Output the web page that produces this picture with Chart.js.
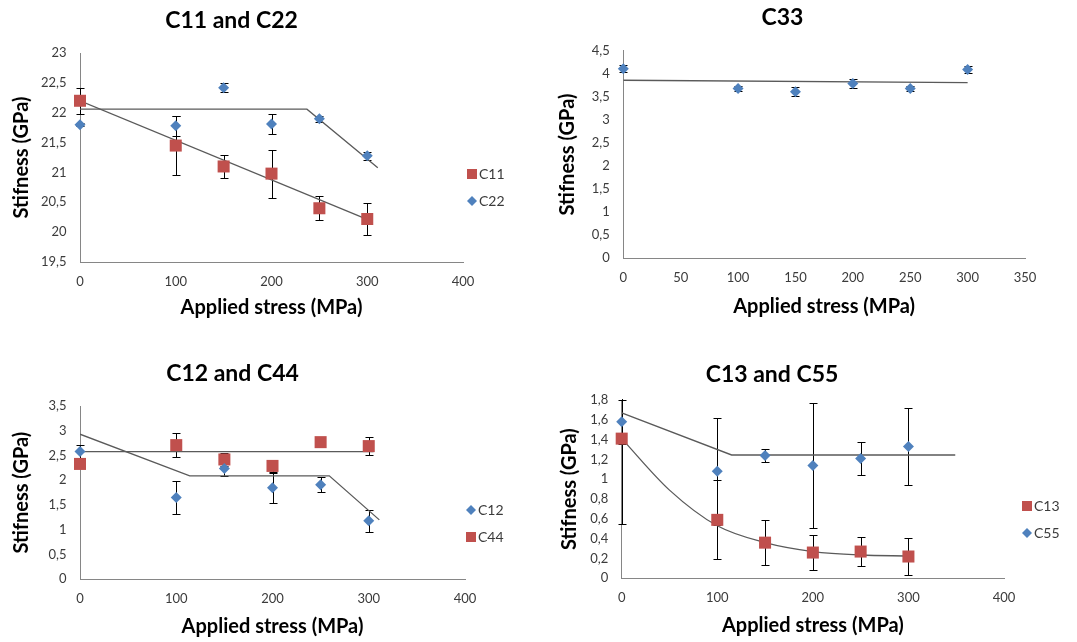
<!DOCTYPE html>
<html>
<head>
<meta charset="utf-8">
<script src="https://cdn.jsdelivr.net/npm/chart.js@4.4.1/dist/chart.umd.min.js"></script>
<style>
  body { margin: 0; background: #fff; }
  canvas { position: absolute; }
</style>
</head>
<body>
<canvas id="p1" width="540" height="330" style="left:0;top:0"></canvas>
<canvas id="p2" width="537" height="330" style="left:540px;top:0"></canvas>
<canvas id="p3" width="540" height="297" style="left:0;top:345px"></canvas>
<canvas id="p4" width="537" height="297" style="left:540px;top:345px"></canvas>
<script>
// ---- data ----
const stress = [0, 100, 150, 200, 250, 300];

const c11 = [22.2, 21.45, 21.1, 20.98, 20.4, 20.22];
const c11Err = [0.22, 0.5, 0.2, 0.4, 0.2, 0.27];
const c22 = [21.8, 21.78, 22.42, 21.81, 21.9, 21.28];
const c22Err = [0.03, 0.17, 0.07, 0.17, 0.05, 0.07];
const c11TrendX = [0, 305];
const c11TrendY = [22.2, 20.18];
const c22TrendX = [0, 237, 311];
const c22TrendY = [22.06, 22.06, 21.08];

const c33 = [4.11, 3.68, 3.61, 3.79, 3.68, 4.09];
const c33Err = [0.07, 0.06, 0.1, 0.1, 0.05, 0.08];
const c33TrendX = [0, 300];
const c33TrendY = [3.86, 3.81];

const c12 = [2.58, 1.65, 2.24, 1.85, 1.91, 1.18];
const c12Err = [0.13, 0.33, 0.16, 0.3, 0.15, 0.22];
const c44 = [2.33, 2.71, 2.42, 2.29, 2.77, 2.69];
const c44Err = [0.03, 0.25, 0.14, 0.12, 0.03, 0.18];
const c12TrendX = [0, 114, 259, 311];
const c12TrendY = [2.93, 2.09, 2.09, 1.2];
const c44TrendX = [0, 305];
const c44TrendY = [2.58, 2.58];

const c13 = [1.41, 0.59, 0.36, 0.26, 0.27, 0.22];
const c13Err = [0.86, 0.4, 0.23, 0.18, 0.15, 0.19];
const c55 = [1.58, 1.08, 1.24, 1.14, 1.21, 1.33];
const c55Err = [0.22, 0.54, 0.07, 0.63, 0.17, 0.39];
const c13TrendX = [0, 50, 100, 150, 200, 250, 300];
const c13TrendY = [1.41, 0.89, 0.53, 0.36, 0.27, 0.235, 0.225];
const c55TrendX = [0, 115, 349];
const c55TrendY = [1.67, 1.245, 1.245];

const RED = "#C0504D", BLUE = "#4F81BD", LINE = "#5a5a5a";
const TICK = "#3b3b3b", AXIS = "#868686";

const pts = (xs, ys) => xs.map((x, i) => ({ x, y: ys[i] }));
const comma = v => String(Math.round(v * 10) / 10).replace(".", ",");

const squares = (label, ys, err) => ({
  label, data: pts(stress, ys), errors: err, clip: false,
  pointStyle: "rect", radius: 8.5, backgroundColor: RED, borderWidth: 0
});
const diamonds = (label, ys, err) => ({
  label, data: pts(stress, ys), errors: err, clip: false,
  pointStyle: "rectRot", radius: 5.5, backgroundColor: BLUE, borderWidth: 0
});
const trend = (xs, ys, curve) => ({
  trend: true, data: pts(xs, ys), showLine: true, pointRadius: 0,
  borderColor: LINE, borderWidth: 1.3, tension: curve ? 0.4 : 0,
  cubicInterpolationMode: curve ? "monotone" : "default"
});

// error bars under the markers, plus the small legend on the right
const extras = {
  id: "extras",
  beforeDatasetsDraw(chart) {
    const { ctx, chartArea: a, scales: { y } } = chart;
    ctx.save();
    ctx.beginPath();
    ctx.rect(a.left - 6, a.top - 1, a.right - a.left + 6, a.bottom - a.top + 2);
    ctx.clip();
    ctx.strokeStyle = "#000";
    ctx.lineWidth = 1;
    chart.data.datasets.forEach((ds, di) => {
      if (!ds.errors) return;
      chart.getDatasetMeta(di).data.forEach((pt, i) => {
        const v = ds.data[i].y, e = ds.errors[i];
        const top = Math.round(y.getPixelForValue(v + e)) + 0.5;
        const bot = Math.round(y.getPixelForValue(v - e)) + 0.5;
        const x = Math.round(pt.x) + 0.5;
        ctx.beginPath();
        ctx.moveTo(x, top); ctx.lineTo(x, bot);
        ctx.moveTo(x - 4, top); ctx.lineTo(x + 4, top);
        ctx.moveTo(x - 4, bot); ctx.lineTo(x + 4, bot);
        ctx.stroke();
      });
    });
    ctx.restore();
  },
  afterDraw(chart, args, opts) {
    if (!opts.x) return;
    const ctx = chart.ctx;
    ctx.save();
    ctx.font = "14px Lato";
    ctx.textBaseline = "middle";
    chart.data.datasets.filter(d => !d.trend).forEach((ds, i) => {
      const y = opts.ys[i];
      ctx.fillStyle = ds.backgroundColor;
      ctx.beginPath();
      if (ds.pointStyle === "rect") {
        ctx.rect(opts.x - 5, y - 5, 10, 10);
      } else {
        ctx.moveTo(opts.x, y - 5); ctx.lineTo(opts.x + 5, y);
        ctx.lineTo(opts.x, y + 5); ctx.lineTo(opts.x - 5, y);
        ctx.closePath();
      }
      ctx.fill();
      ctx.fillStyle = TICK;
      ctx.fillText(ds.label, opts.x + 7, y);
    });
    ctx.restore();
  }
};

function panel(id, c) {
  const bold = { family: "Lato", size: 20, weight: "bold" };
  return new Chart(document.getElementById(id), {
    type: "scatter",
    data: { datasets: c.datasets },
    options: {
      responsive: false,
      animation: false,
      layout: { padding: { right: c.padRight } },
      plugins: {
        legend: { display: false },
        tooltip: { enabled: false },
        title: {
          display: true, text: c.title, color: "#000",
          font: { family: "Lato", size: 23, weight: "bold" },
          padding: { top: c.titleTop, bottom: c.titleBottom }
        },
        extras: c.legend || {}
      },
      scales: {
        x: {
          min: 0, max: c.xMax,
          grid: { display: false, drawTicks: false },
          border: { color: AXIS },
          ticks: { stepSize: c.xStep, padding: 12, color: TICK, font: { family: "Lato", size: 13 } },
          title: { display: true, text: "Applied stress (MPa)", color: "#000", font: bold, padding: { bottom: c.xTitlePad } },
          afterFit: s => { s.height = c.xH; }
        },
        y: {
          min: c.yMin, max: c.yMax,
          grid: { display: false, drawTicks: false },
          border: { color: AXIS },
          ticks: { stepSize: c.yStep, padding: 13.5, color: TICK, font: { family: "Lato", size: 13 }, callback: comma },
          title: { display: true, text: "Stifness (GPa)", color: "#000", font: bold, padding: { top: c.yTitlePad } },
          afterFit: s => { s.width = c.yW; }
        }
      }
    },
    plugins: [extras]
  });
}

panel("p1", {
  title: "C11 and C22",
  datasets: [squares("C11", c11, c11Err), diamonds("C22", c22, c22Err),
             trend(c11TrendX, c11TrendY), trend(c22TrendX, c22TrendY)],
  xMax: 400, xStep: 100, yMin: 19.5, yMax: 23, yStep: 0.5,
  padRight: 77, titleTop: 6.5, titleBottom: 18.9, yW: 80, xH: 68,
  yTitlePad: 10, xTitlePad: 10,
  legend: { x: 472, ys: [174, 201] }
});

panel("p2", {
  title: "C33",
  datasets: [diamonds("C33", c33, c33Err), trend(c33TrendX, c33TrendY)],
  xMax: 350, xStep: 50, yMin: 0, yMax: 4.5, yStep: 0.5,
  padRight: 52, titleTop: 3.8, titleBottom: 19.3, yW: 83.3, xH: 71.7,
  yTitlePad: 16, xTitlePad: 11.3
});

panel("p3", {
  title: "C12 and C44",
  datasets: [diamonds("C12", c12, c12Err), squares("C44", c44, c44Err),
             trend(c12TrendX, c12TrendY), trend(c44TrendX, c44TrendY)],
  xMax: 400, xStep: 100, yMin: 0, yMax: 3.5, yStep: 0.5,
  padRight: 75, titleTop: 14.4, titleBottom: 19, yW: 80, xH: 62.7,
  yTitlePad: 9.7, xTitlePad: 3.3,
  legend: { x: 471, ys: [165, 192] }
});

panel("p4", {
  title: "C13 and C55",
  datasets: [squares("C13", c13, c13Err), diamonds("C55", c55, c55Err),
             trend(c13TrendX, c13TrendY, true), trend(c55TrendX, c55TrendY)],
  xMax: 400, xStep: 100, yMin: 0, yMax: 1.8, yStep: 0.2,
  padRight: 73, titleTop: 16.1, titleBottom: 11.3, yW: 81.7, xH: 63.7,
  yTitlePad: 18, xTitlePad: 4,
  legend: { x: 487, ys: [161, 188] }
});
</script>
</body>
</html>
